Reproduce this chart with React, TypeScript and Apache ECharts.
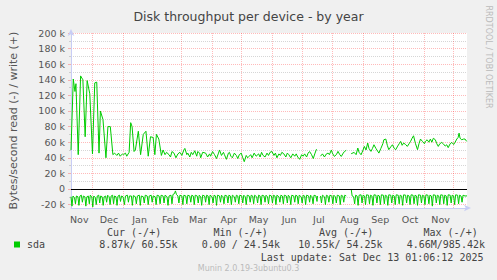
import React, { useEffect, useRef } from "react";
import * as echarts from "echarts";

const DAY = 86400000;
const START = Date.UTC(2024, 10, 9, 16);
const SPAN_DAYS = 400;

const monthNames = ["Jan", "Feb", "Mar", "Apr", "May", "Jun", "Jul", "Aug", "Sep", "Oct", "Nov", "Dec"];
const monthBoundaries = [
  "2024-12-01", "2025-01-01", "2025-02-01", "2025-03-01", "2025-04-01", "2025-05-01", "2025-06-01",
  "2025-07-01", "2025-08-01", "2025-09-01", "2025-10-01", "2025-11-01", "2025-12-01",
];
const monthLabelMonths = [
  "2024-11-01", "2024-12-01", "2025-01-01", "2025-02-01", "2025-03-01", "2025-04-01", "2025-05-01",
  "2025-06-01", "2025-07-01", "2025-08-01", "2025-09-01", "2025-10-01", "2025-11-01",
];

const majorTicks = [-20000, 0, 20000, 40000, 60000, 80000, 100000, 120000, 140000, 160000, 180000, 200000];
const minorTicks = [-10000, 10000, 30000, 50000, 70000, 90000, 110000, 130000, 150000, 170000, 190000];

// [day offset from start, kB/s] ; null = gap
const writePoints: [number, number | null][] = [
  [0, 50], [2.3, 141], [4, 125], [5, 135], [7.3, 44], [9.7, 145], [12, 140], [14.3, 67], [16.3, 139], [19, 122],
  [21.7, 45], [24, 136], [26, 137], [28.3, 46], [29.7, 100], [32.3, 89], [35.3, 40], [37.3, 80], [39.7, 80], [42.3, 44],
  [44, 46], [46.3, 43], [48, 46], [49.7, 42], [52, 45], [53, 44], [55, 46], [56.3, 42], [58.7, 47], [60.3, 85],
  [61.7, 80], [63.7, 48], [65, 50], [68, 74], [70.3, 44], [73, 70], [75.7, 74], [78, 42], [80.3, 67], [83, 66],
  [84.7, 44], [86.3, 70], [88.7, 64], [91.3, 43], [93, 50], [95, 44], [96.5, 47], [99, 44], [100.5, 41], [102, 48],
  [104, 46], [106, 40], [108, 45], [110, 47], [112, 43], [114, 50], [115, 52], [117, 44], [118, 46], [120, 41],
  [121.5, 47], [123, 44], [125, 49], [127, 42], [128, 48], [130, 46], [131, 40], [133, 47], [136, 46], [138, 41],
  [140, 45], [141, 42], [143, 48], [145, 44], [147, 39], [149, 46], [150, 50], [152, 43], [154, 47], [155, 44],
  [157, 38], [159, 46], [160, 47], [161.5, 42], [163, 40], [165, 46], [167, 43], [168.5, 39], [170, 44], [172, 46],
  [173.5, 40], [175, 35], [177, 43], [178.5, 40], [180, 42], [181.5, 44], [183, 40], [185, 46], [187, 42], [189.5, 45],
  [191, 41], [192.5, 47], [194, 43], [196, 41], [198, 46], [199.5, 43], [201, 47], [203, 48], [205, 43], [206.5, 46],
  [208, 40], [210, 45], [211.5, 43], [213, 47], [215, 45], [217, 41], [218.5, 46], [220, 44], [222, 40], [224, 45],
  [226, 42], [227.5, 45], [229, 41], [231, 38], [233, 44], [234.5, 42], [236, 45], [238, 41], [239.5, 46], [241, 48],
  [243, 44], [244.7, 39], [246.5, 46], [248, 51], [250, null],
  [252, 42], [254, 45], [256, 41], [258, 45], [259.7, 46], [261, 44], [263, 50], [264, 46], [266, 41.7], [268, 44],
  [269.7, 48.2], [271.5, 44], [273, 41.7], [275, 46], [276.3, 48.2], [278, 49.5], [280, null],
  [283, 45.2], [286, 46.9], [288, 44], [289.7, 52.5], [291, 47], [293, 43.9], [295, 50], [296.3, 54.6], [298, 50], [299.7, 58.9],
  [301, 52], [303, 48.2], [304.5, 52], [306, 56.7], [308, 52], [311, 46], [313, 52], [315, 58], [316, 63.1], [318, 64],
  [319.5, 56], [321, 50.4], [323, 54], [324.7, 56.7], [326.5, 52], [328, 50.4], [330, 55], [331.5, 58], [333, 61], [334.5, 56],
  [336, 58.9], [338, 57], [339.7, 54.6], [341.5, 58], [343, 61], [344.5, 65], [346, 68.2], [348, 58], [350, 50.4], [351.5, 58],
  [353, 64], [355, 61], [357, 58], [358, 61], [359.7, 63.1], [361.5, 60], [363, 64], [364.5, 60], [366, 65], [368, 63.1],
  [369.5, 58], [371, 54.6], [372.5, 58], [374.5, 59.7], [376, 58], [378, 55], [379.5, 56.7], [381, 53], [383, 58], [384.7, 59.7],
  [386.5, 57], [388, 60], [389.7, 64], [391, 66], [392, 71.6], [393, 65], [394.7, 63.1], [396.5, 64], [398, 64], [399.7, 61],
  [400, 60.55],
];

const readPoints: [number, number | null][] = [
  [0, -10], [1, -22], [2, -9], [3.5, -11], [4.5, -19], [5.5, -9], [7, -10], [8, -21], [9, -9], [10.5, -8],
  [11.5, -17], [12.5, -9], [14, -10], [15, -22], [16, -10], [17.5, -9], [18.5, -19], [19.5, -8], [21, -10], [22, -23],
  [23, -9], [24.5, -11], [25.5, -20], [26.5, -9], [28, -8], [29, -18], [30, -9], [31.5, -10], [32.5, -21], [33.5, -10],
  [35, -9], [36, -17], [37, -8], [38.5, -10], [39.5, -20], [40.5, -9], [42, -8], [43, -19], [44, -9], [45.5, -10],
  [46.5, -21], [47.5, -9], [49, -8], [50, -16], [51, -9], [52.5, -10], [54, -20], [55, -9], [57, -8], [58, -17],
  [59, -9], [61, -9], [62, -21], [63, -8.5], [65, -10], [66, -19], [67, -9], [69, -8], [70, -21], [71, -9],
  [73, -10], [74, -18], [75, -8], [77, -9], [78, -20], [79, -9], [81, -8], [82, -17], [83, -9], [85, -10],
  [86, -20], [87, -8], [89, -9], [90, -19], [91, -8], [93, -9], [94, -18], [95, -8], [97, -10], [98, -21],
  [99, -9], [101, -8], [102, -19], [103, -7], [104.5, -6], [105.5, -2.5], [106.5, -7], [108, -9], [109, -18], [110, -8],
  [112, -9], [113, -20], [114, -8], [116, -9], [117, -19], [118, -8], [120, -9], [121, -17], [122, -8], [123.5, -9],
  [124.5, -20], [125.5, -8], [127.5, -9], [128.5, -18], [129.5, -8], [131, -10], [132, -21], [133, -8], [135, -9], [136, -17],
  [137, -8], [138.5, -9], [139.5, -20], [140.5, -8], [142.5, -10], [143.5, -18], [144.5, -8], [146, -9], [147, -21], [148, -8],
  [150, -9], [151, -17], [152, -8], [153.5, -10], [154.5, -19], [155.5, -8], [157.5, -9], [158.5, -18], [159.5, -8], [161, -9],
  [162, -20], [163, -8], [165, -10], [166, -17], [167, -8], [168.5, -9], [169.5, -19], [170.5, -8], [172.5, -9], [173.5, -18],
  [174.5, -8], [176, -10], [177, -20], [178, -8], [180, -9], [181, -17], [182, -8], [183.5, -9], [184.5, -19], [185.5, -8],
  [187.5, -10], [188.5, -18], [189.5, -8], [191, -9], [192, -20], [193, -8], [195, -9], [196, -17], [197, -8], [198.5, -10],
  [199.5, -19], [200.5, -8], [202.5, -9], [203.5, -18], [204.5, -8], [206, -9], [207, -20], [208, -8], [210, -10], [211, -17],
  [212, -8], [213.5, -9], [214.5, -19], [215.5, -8], [217.5, -9], [218.5, -18], [219.5, -8], [221, -10], [222, -20], [223, -8],
  [225, -9], [226, -17], [227, -8], [228.5, -9], [229.5, -19], [230.5, -8], [232.5, -10], [233.5, -18], [234.5, -8], [236, -9],
  [237, -20], [238, -8], [240, -9], [241, -17], [242, -8], [243.5, -10], [244.5, -19], [245.5, -8], [247.5, -9], [248.5, -16],
  [249, -9], [250, null],
  [252, -9], [253, -18], [254, -8], [256, -10], [257, -20], [258, -8], [259.5, -9], [260.5, -17], [261.5, -8], [263.5, -9],
  [264.5, -19], [265.5, -8], [267, -10], [268, -18], [269, -8], [271, -9], [272, -20], [273, -8], [274.5, -9], [275.5, -17],
  [276.5, -8], [278, -9], [280, null],
  [283, 0], [284, -9], [285.5, -10], [286.5, -19], [287.5, -8], [289, -9], [290, -21], [291, -8], [293, -7.5], [294, -18],
  [295, -8], [296.5, -9], [297.5, -20], [298.5, -7.5], [300.5, -8], [301.5, -19], [302.5, -8], [304, -9], [305, -21], [306, -7.5],
  [308, -8], [309, -18], [310, -8], [311.5, -9], [312.5, -20], [313.5, -7.5], [315.5, -8], [316.5, -19], [317.5, -8], [319, -9],
  [320, -21], [321, -7.5], [323, -8], [324, -18], [325, -8], [326.5, -9], [327.5, -20], [328.5, -7.5], [330.5, -8], [331.5, -19],
  [332.5, -8], [334, -9], [335, -21], [336, -7.5], [338, -8], [339, -18], [340, -8], [341.5, -9], [342.5, -20], [343.5, -7.5],
  [345.5, -8], [346.5, -19], [347.5, -8], [349, -9], [350, -21], [351, -7.5], [353, -8], [354, -18], [355, -8], [356.5, -9],
  [357.5, -20], [358.5, -7.5], [360.5, -8], [361.5, -19], [362.5, -8], [364, -9], [365, -22], [366, -7.5], [368, -8], [369, -18],
  [370, -8], [371.5, -9], [372.5, -20], [373.5, -7.5], [375.5, -8], [376.5, -19], [377.5, -8], [379, -9], [380, -21], [381, -7.5],
  [383, -8], [384, -18], [385, -8], [386.5, -9], [387.5, -20], [388.5, -7.5], [390.5, -8], [391.5, -19], [392.5, -8], [394, -9],
  [395, -17], [396, -8], [398, -9], [400, -8.87],
];

const statHeaders = ["Cur (-/+)", "Min (-/+)", "Avg (-/+)", "Max (-/+)"];
const statValues = ["8.87k/ 60.55k", "0.00 / 24.54k", "10.55k/ 54.25k", "4.66M/985.42k"];
const lastUpdate = "Last update: Sat Dec 13 01:06:12 2025";
const version = "Munin 2.0.19-3ubuntu0.3";

const toTs = (s: string) => {
  const [y, m, d] = s.split("-").map(Number);
  return Date.UTC(y, m - 1, d);
};

const toSeries = (pts: [number, number | null][]) =>
  pts.map(([d, v]) => [START + d * DAY, v === null ? null : v * 1000]);

const SANS = "DejaVu Sans";
const MONO = "DejaVu Sans Mono";
const AXIS_COLOR = "#c8cdf5";
const MGRID = "rgba(255,0,0,0.27)";
const GRID = "rgba(128,128,128,0.32)";

export default function App() {
  const ref = useRef<HTMLDivElement>(null);
  useEffect(() => {
    if (!ref.current) return;
    const chart = echarts.init(ref.current, null, { renderer: "svg" });
    const yMin = -24400;
    const yMax = 200000;
    const headerX = [107, 213.5, 319, 423.5];
    const valueX = [99.3, 201.7, 298.3, 406.7];
    chart.setOption({
      animation: false,
      backgroundColor: "#f0f0f0",
      title: {
        text: "Disk throughput per device - by year",
        left: "center",
        top: 5,
        textStyle: { fontFamily: SANS, fontSize: 12.5, fontWeight: "normal", color: "#444" },
      },
      legend: {
        data: ["sda"],
        left: 14,
        top: 239.5,
        padding: 0,
        icon: "rect",
        itemWidth: 6,
        itemHeight: 6,
        selectedMode: false,
        textStyle: { fontFamily: MONO, fontSize: 10, color: "#444", padding: [0, 0, 0, 2], lineHeight: 10 },
      },
      grid: { left: 67, top: 33, width: 400, height: 175, show: true, backgroundColor: "#ffffff", borderWidth: 0 },
      xAxis: {
        type: "value",
        min: START,
        max: START + SPAN_DAYS * DAY,
        axisLine: {
          onZero: false,
          lineStyle: { color: AXIS_COLOR, width: 1 },
          symbol: ["none", "arrow"],
          symbolSize: [5, 7],
          symbolOffset: [0, 4],
        },
        axisTick: { show: false, customValues: monthBoundaries.map(toTs) },
        axisLabel: {
          customValues: monthLabelMonths.map((s) => toTs(s) + 17 * DAY),
          formatter: (v: number) => monthNames[new Date(v).getUTCMonth()],
          fontFamily: SANS,
          fontSize: 9.5,
          color: "#555",
          margin: 6,
        },
        splitLine: { show: true, lineStyle: { color: MGRID, type: [1, 1], width: 1 } },
      },
      yAxis: [
        {
          type: "value",
          min: yMin,
          max: yMax,
          position: "left",
          name: "Bytes/second read (-) / write (+)",
          nameLocation: "middle",
          nameGap: 52,
          nameTextStyle: { fontFamily: SANS, fontSize: 11, color: "#555" },
          axisLine: {
            show: true,
            lineStyle: { color: AXIS_COLOR, width: 1 },
            symbol: ["none", "arrow"],
            symbolSize: [5, 7],
            symbolOffset: [0, 4],
          },
          axisTick: { show: true, length: 3, customValues: majorTicks, lineStyle: { color: MGRID } },
          axisLabel: {
            customValues: majorTicks,
            formatter: (v: number) => (v === 0 ? "0" : `${v / 1000} k`),
            fontFamily: SANS,
            fontSize: 9.5,
            color: "#555",
            margin: 6,
          },
          splitLine: { show: true, lineStyle: { color: MGRID, type: [1, 1], width: 1 } },
        },
        {
          type: "value",
          min: yMin,
          max: yMax,
          position: "left",
          axisLine: { show: false },
          axisTick: { show: true, length: 2, customValues: minorTicks, lineStyle: { color: GRID } },
          axisLabel: { show: false },
          splitLine: { show: true, lineStyle: { color: GRID, type: [1, 1], width: 1 } },
        },
      ],
      series: [
        {
          name: "sda",
          type: "line",
          data: toSeries(readPoints),
          showSymbol: false,
          connectNulls: false,
          color: "#00cc00",
          lineStyle: { color: "#00cc00", width: 1 },
          silent: true,
          z: 3,
        },
        {
          name: "sda",
          type: "line",
          data: toSeries(writePoints),
          showSymbol: false,
          connectNulls: false,
          color: "#00cc00",
          lineStyle: { color: "#00cc00", width: 1 },
          silent: true,
          z: 3,
          markLine: {
            silent: true,
            symbol: ["none", "none"],
            label: { show: false },
            lineStyle: { color: "#000", type: "solid", width: 1 },
            data: [{ yAxis: 0 }],
          },
        },
      ],
      graphic: [
        {
          type: "text",
          x: 488,
          y: 57,
          rotation: -Math.PI / 2,
          style: { text: "RRDTOOL / TOBI OETIKER", font: `8px '${SANS}'`, fill: "#bbb", align: "center", verticalAlign: "middle" },
        },
        ...statHeaders.map((t, i) => ({
          type: "text",
          x: headerX[i],
          y: 232.5,
          style: { text: t, font: `10px '${MONO}'`, fill: "#444", align: "left", verticalAlign: "middle" },
        })),
        ...statValues.map((t, i) => ({
          type: "text",
          x: valueX[i],
          y: 244.5,
          style: { text: t, font: `10px '${MONO}'`, fill: "#444", align: "left", verticalAlign: "middle" },
        })),
        {
          type: "text",
          x: 483.5,
          y: 257,
          style: { text: lastUpdate, font: `10px '${MONO}'`, fill: "#444", align: "right", verticalAlign: "middle" },
        },
        {
          type: "text",
          x: 248.5,
          y: 268.5,
          style: { text: version, font: `8px '${SANS}'`, fill: "#bbb", align: "center", verticalAlign: "middle" },
        },
      ],
    });
    return () => chart.dispose();
  }, []);
  return <div ref={ref} style={{ position: "fixed", left: 0, top: 0, width: 497, height: 280 }} />;
}
